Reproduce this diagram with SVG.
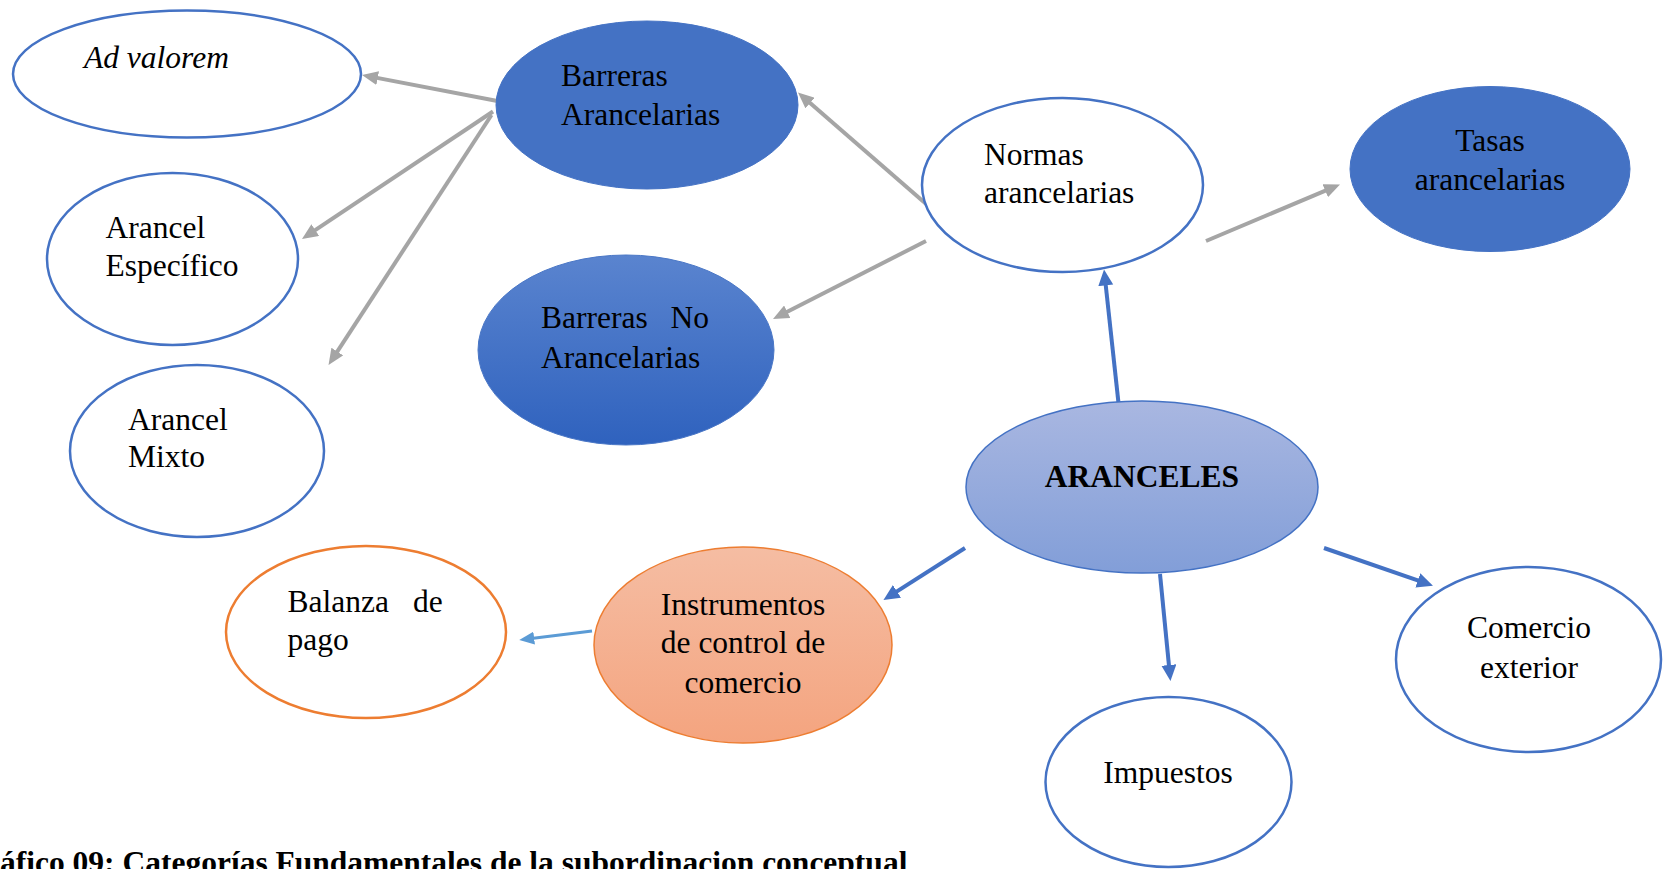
<svg xmlns="http://www.w3.org/2000/svg" width="1663" height="869" viewBox="0 0 1663 869">
<style>
text{font-family:"Liberation Serif","Times New Roman",serif;font-size:31.5px;fill:#000}
.c{text-anchor:middle}
.wb{fill:#fff;stroke:#4472C4;stroke-width:2.5}
.wo{fill:#fff;stroke:#ED7D31;stroke-width:2.5}
.sb{fill:#4472C4;stroke:#4472C4;stroke-width:1}
.g{stroke:#A5A5A5;stroke-width:4;fill:none;marker-end:url(#ag)}
.b{stroke:#4472C4;stroke-width:4;fill:none;marker-end:url(#ab)}
.lb{stroke:#5B9BD5;stroke-width:3;fill:none;marker-end:url(#alb)}
</style>
<defs>
<linearGradient id="gNo" x1="0" y1="0" x2="0" y2="1"><stop offset="0" stop-color="#5A84CF"/><stop offset="1" stop-color="#2F62BE"/></linearGradient>
<linearGradient id="gAr" x1="0" y1="0" x2="0" y2="1"><stop offset="0" stop-color="#A9B7E1"/><stop offset="1" stop-color="#829ED8"/></linearGradient>
<linearGradient id="gIn" x1="0" y1="0" x2="0" y2="1"><stop offset="0" stop-color="#F5BDA3"/><stop offset="1" stop-color="#F4A47F"/></linearGradient>
<marker id="ag" markerUnits="userSpaceOnUse" markerWidth="16" markerHeight="14" refX="6" refY="7" orient="auto"><path d="M0,0 L16,7 L0,14 z" fill="#A5A5A5"/></marker>
<marker id="ab" markerUnits="userSpaceOnUse" markerWidth="16" markerHeight="16" refX="6" refY="7.5" orient="auto"><path d="M0,0 L16,7.5 L0,15 z" fill="#4472C4"/></marker>
<marker id="alb" markerUnits="userSpaceOnUse" markerWidth="15" markerHeight="13" refX="7" refY="6.5" orient="auto"><path d="M0,0 L15,6.5 L0,13 z" fill="#5B9BD5"/></marker>
</defs>
<rect width="1663" height="869" fill="#fff"/>
<g id="connectors">
<line class="g" x1="500" y1="101.5" x2="371.8" y2="76.9"/>
<line class="g" x1="493" y1="111.5" x2="310.3" y2="233.4"/>
<line class="g" x1="491.5" y1="115" x2="334" y2="356.6"/>
<line class="g" x1="936.5" y1="213" x2="805.5" y2="99.1"/>
<line class="g" x1="926" y1="241" x2="781.9" y2="314.5"/>
<line class="g" x1="1206" y1="241" x2="1330.8" y2="188.4"/>
<line class="b" x1="1118.5" y1="403" x2="1105.1" y2="279.4"/>
<line class="b" x1="965" y1="548" x2="891.9" y2="594.6"/>
<line class="b" x1="1160" y1="574" x2="1169.5" y2="671"/>
<line class="b" x1="1324" y1="548" x2="1423.5" y2="582.4"/>
<line class="lb" x1="592" y1="631" x2="527.2" y2="639"/>
</g>
<g id="ad-valorem">
<ellipse class="wb" cx="187" cy="74" rx="174" ry="63.5"/>
<text x="84" y="68" font-style="italic">Ad valorem</text>
</g>
<g id="barreras-arancelarias">
<ellipse class="sb" cx="647" cy="105" rx="151" ry="84"/>
<text x="561" y="86">Barreras</text>
<text x="561" y="125">Arancelarias</text>
</g>
<g id="arancel-especifico">
<ellipse class="wb" cx="172.5" cy="259" rx="125.5" ry="86"/>
<text x="105.5" y="238">Arancel</text>
<text x="105.5" y="276">Específico</text>
</g>
<g id="arancel-mixto">
<ellipse class="wb" cx="197" cy="451" rx="127" ry="86"/>
<text x="128" y="430">Arancel</text>
<text x="128" y="467">Mixto</text>
</g>
<g id="barreras-no-arancelarias">
<ellipse cx="626" cy="350" rx="148" ry="95" fill="url(#gNo)" stroke="#4A77C6" stroke-width="1"/>
<text y="328"><tspan x="541">Barreras</tspan> <tspan x="670.5">No</tspan></text>
<text x="541" y="368">Arancelarias</text>
</g>
<g id="normas-arancelarias">
<ellipse class="wb" cx="1062.5" cy="185" rx="140.5" ry="87"/>
<text x="984" y="165">Normas</text>
<text x="984" y="203">arancelarias</text>
</g>
<g id="tasas-arancelarias">
<ellipse class="sb" cx="1490" cy="169" rx="140" ry="82.5"/>
<text class="c" x="1490" y="151">Tasas</text>
<text class="c" x="1490" y="190">arancelarias</text>
</g>
<g id="aranceles">
<ellipse cx="1142" cy="487" rx="176" ry="86" fill="url(#gAr)" stroke="#4472C4" stroke-width="1.5"/>
<text class="c" x="1142" y="487" font-weight="bold">ARANCELES</text>
</g>
<g id="comercio-exterior">
<ellipse class="wb" cx="1528.5" cy="659.5" rx="132.5" ry="92.5"/>
<text class="c" x="1529" y="638">Comercio</text>
<text class="c" x="1529" y="678">exterior</text>
</g>
<g id="impuestos">
<ellipse class="wb" cx="1168.5" cy="782" rx="123" ry="85"/>
<text class="c" x="1168" y="783">Impuestos</text>
</g>
<g id="instrumentos">
<ellipse cx="743" cy="645" rx="149" ry="98" fill="url(#gIn)" stroke="#ED7D31" stroke-width="1.5"/>
<text class="c" x="743" y="615">Instrumentos</text>
<text class="c" x="743" y="653">de control de</text>
<text class="c" x="743" y="693">comercio</text>
</g>
<g id="balanza-de-pago">
<ellipse class="wo" cx="366" cy="632" rx="140" ry="86"/>
<text y="612"><tspan x="287.5">Balanza</tspan> <tspan x="413">de</tspan></text>
<text x="287.5" y="650">pago</text>
</g>
<text id="caption" x="0" y="873" font-weight="bold">áfico 09: Categorías Fundamentales de la subordinacion conceptual</text>
</svg>
